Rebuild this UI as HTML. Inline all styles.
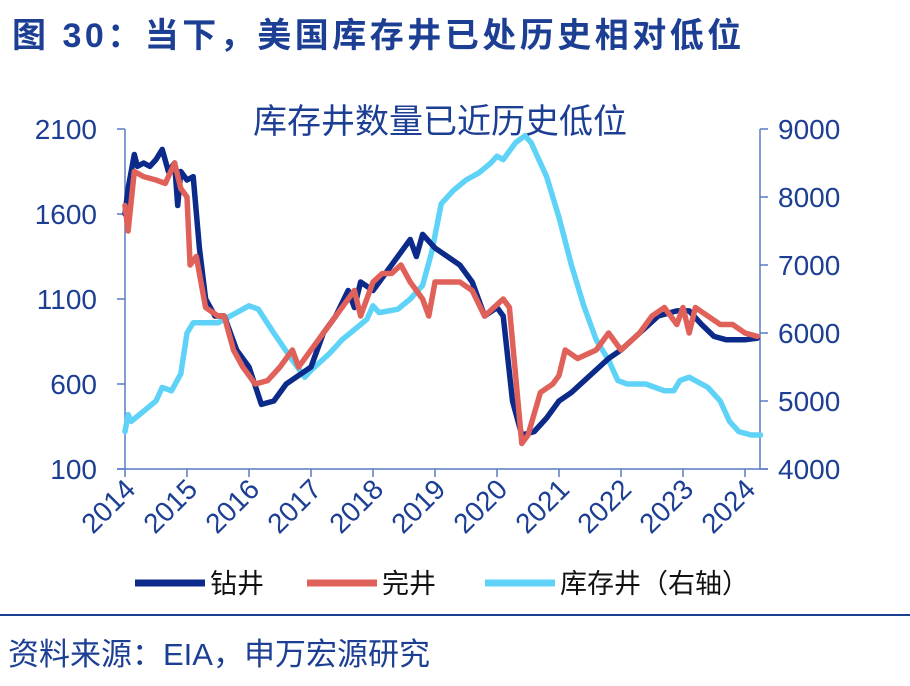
<!DOCTYPE html>
<html><head><meta charset="utf-8"><style>
body{margin:0;width:910px;height:681px;background:#fff;overflow:hidden;font-family:"Liberation Sans","Noto Sans CJK SC",sans-serif;}
</style></head><body>
<svg width="910" height="681" viewBox="0 0 910 681" xmlns="http://www.w3.org/2000/svg">
<text x="12" y="47" font-size="34" letter-spacing="3.5" font-weight="bold" fill="#1c3f94" font-family="Liberation Sans,Noto Sans CJK SC,sans-serif">图 30：当下，美国库存井已处历史相对低位</text>
<text x="440" y="133" text-anchor="middle" font-size="34" fill="#1c3f94" font-family="Liberation Sans,Noto Sans CJK SC,sans-serif">库存井数量已近历史低位</text>
<g id="axes"></g>
<g id="series"></g>
<g>
<line x1="135" y1="583" x2="205" y2="583" stroke="#0b2a8a" stroke-width="7"/>
<text x="210" y="593" font-size="27" fill="#111" font-family="Liberation Sans,Noto Sans CJK SC,sans-serif">钻井</text>
<line x1="307" y1="583" x2="377" y2="583" stroke="#e0605a" stroke-width="7"/>
<text x="382" y="593" font-size="27" fill="#111" font-family="Liberation Sans,Noto Sans CJK SC,sans-serif">完井</text>
<line x1="485" y1="583" x2="555" y2="583" stroke="#5fd3f7" stroke-width="7"/>
<text x="560" y="593" font-size="27" fill="#111" font-family="Liberation Sans,Noto Sans CJK SC,sans-serif">库存井（右轴）</text>
</g>
<line x1="0" y1="615" x2="910" y2="615" stroke="#1c3f94" stroke-width="2"/>
<text x="8" y="665" font-size="31" fill="#1c3f94" font-family="Liberation Sans,Noto Sans CJK SC,sans-serif">资料来源：EIA，申万宏源研究</text>
</svg>
<script>
const years=[2014,2015,2016,2017,2018,2019,2020,2021,2022,2023,2024];
const leftTicks=[100,600,1100,1600,2100];
const rightTicks=[4000,5000,6000,7000,8000,9000];
const rigT=[2014.0,2014.05,2014.15,2014.2,2014.3,2014.4,2014.5,2014.6,2014.7,2014.8,2014.85,2014.9,2015.0,2015.1,2015.2,2015.3,2015.45,2015.6,2015.8,2016.0,2016.2,2016.4,2016.6,2016.8,2017.0,2017.2,2017.4,2017.6,2017.7,2017.8,2018.0,2018.2,2018.4,2018.5,2018.6,2018.7,2018.8,2019.0,2019.2,2019.4,2019.6,2019.8,2020.0,2020.1,2020.25,2020.4,2020.6,2020.8,2021.0,2021.2,2021.5,2021.8,2022.0,2022.3,2022.6,2022.9,2023.1,2023.3,2023.5,2023.7,2024.0,2024.2];
const rigV=[1600,1750,1950,1880,1900,1880,1920,1980,1850,1900,1650,1850,1800,1820,1400,1100,1000,1000,800,700,480,500,600,650,700,900,1000,1150,1050,1200,1150,1250,1350,1400,1450,1350,1480,1400,1350,1300,1200,1000,1050,1000,500,300,320,400,500,550,650,750,800,900,1000,1030,1030,950,880,860,860,870];
const compT=[2014.0,2014.05,2014.15,2014.3,2014.5,2014.65,2014.8,2014.9,2015.0,2015.05,2015.15,2015.3,2015.5,2015.6,2015.75,2015.9,2016.0,2016.1,2016.3,2016.5,2016.7,2016.8,2017.0,2017.2,2017.4,2017.6,2017.7,2017.8,2018.0,2018.15,2018.3,2018.45,2018.6,2018.8,2018.9,2019.0,2019.2,2019.4,2019.6,2019.8,2019.95,2020.1,2020.2,2020.4,2020.5,2020.7,2020.9,2021.0,2021.1,2021.3,2021.6,2021.8,2022.0,2022.3,2022.5,2022.7,2022.9,2023.0,2023.1,2023.2,2023.4,2023.6,2023.8,2024.0,2024.2];
const compV=[1650,1500,1850,1820,1800,1780,1900,1750,1700,1300,1350,1050,1000,1000,800,700,650,600,620,700,800,700,800,900,1000,1100,1150,1000,1200,1250,1250,1300,1200,1100,1000,1200,1200,1200,1150,1000,1050,1100,1050,250,300,550,600,650,800,750,800,900,800,900,1000,1050,950,1050,900,1050,1000,950,950,900,880];
const invT=[2014.0,2014.05,2014.1,2014.3,2014.5,2014.6,2014.75,2014.9,2015.0,2015.1,2015.3,2015.5,2015.8,2016.0,2016.15,2016.4,2016.7,2016.9,2017.0,2017.3,2017.5,2017.7,2017.9,2018.0,2018.1,2018.4,2018.6,2018.8,2018.95,2019.1,2019.3,2019.5,2019.7,2019.9,2020.0,2020.1,2020.3,2020.45,2020.55,2020.8,2021.0,2021.2,2021.4,2021.6,2021.8,2021.95,2022.1,2022.4,2022.7,2022.85,2022.95,2023.1,2023.2,2023.4,2023.6,2023.75,2023.9,2024.1,2024.25];
const invV=[4550,4800,4700,4850,5000,5200,5150,5400,6000,6150,6150,6150,6300,6400,6350,6000,5600,5350,5450,5700,5900,6050,6200,6400,6300,6350,6500,6700,7200,7900,8100,8250,8350,8500,8600,8550,8800,8900,8800,8300,7700,7000,6400,5900,5600,5300,5250,5250,5150,5150,5300,5350,5300,5200,5000,4700,4550,4500,4500];
const NS='http://www.w3.org/2000/svg';
const X0=125,PX=62,YT=129,YB=469,XR=760;
const xs=t=>X0+(t-2014)*PX;
const yl=v=>YB-(v-100)/2000*(YB-YT);
const yr=v=>YB-(v-4000)/5000*(YB-YT);
function mk(tag,attrs,parent){const e=document.createElementNS(NS,tag);for(const k in attrs)e.setAttribute(k,attrs[k]);parent.appendChild(e);return e;}
const ax=document.getElementById('axes');
const ac='#5a7bc4',tc='#1c3f94';
let e=mk('line',{x1:X0,y1:YT,x2:X0,y2:YB,stroke:ac,'stroke-width':1.5},ax);

e=mk('line',{x1:XR,y1:YT,x2:XR,y2:YB,stroke:ac,'stroke-width':1.5},ax);

e=mk('line',{x1:X0-8,y1:YB,x2:XR+8,y2:YB,stroke:ac,'stroke-width':1.5},ax);

leftTicks.forEach(v=>{const y=yl(v);
 mk('line',{x1:X0-8,y1:y,x2:X0,y2:y,stroke:ac,'stroke-width':1.5},ax);
 const t=mk('text',{x:X0-28,y:y+10,'text-anchor':'end','font-size':28,fill:tc},ax);t.textContent=v;
 
 });
rightTicks.forEach(v=>{const y=yr(v);
 mk('line',{x1:XR,y1:y,x2:XR+8,y2:y,stroke:ac,'stroke-width':1.5},ax);
 const t=mk('text',{x:XR+18,y:y+10,'font-size':28,fill:tc},ax);t.textContent=v;
 
 });
years.forEach(yv=>{const x=xs(yv);
 mk('line',{x1:x,y1:YB,x2:x,y2:YB+8,stroke:ac,'stroke-width':1.5},ax);
 const t=mk('text',{x:x+12,y:YB+22,'text-anchor':'end','font-size':28,fill:tc,transform:`rotate(-45 ${x+12} ${YB+22})`},ax);t.textContent=yv;
 
 });
const sg=document.getElementById('series');
function line(T,V,f,col,name){const d=T.map((t,i)=>(i?'L':'M')+xs(t).toFixed(1)+','+f(V[i]).toFixed(1)).join('');
 const p=mk('path',{d:d,fill:'none',stroke:col,'stroke-width':5.5,'stroke-linejoin':'round','stroke-linecap':'round'},sg);
 
 }
line(invT,invV,yr,'#5fd3f7','inventory-line');
line(rigT,rigV,yl,'#0b2a8a','rig-line');
line(compT,compV,yl,'#e0605a','completion-line');
</script>
</body></html>
